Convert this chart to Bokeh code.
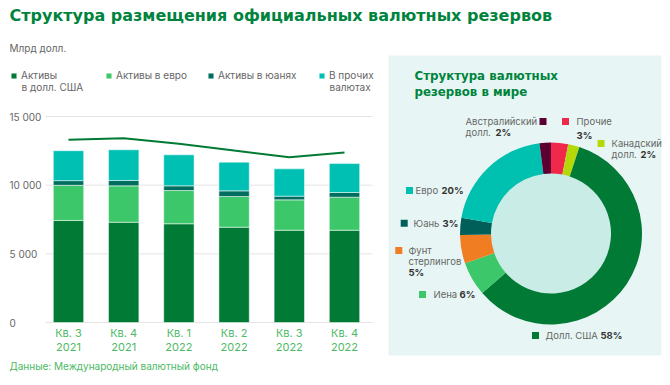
import numpy as np
from bokeh.plotting import figure
from bokeh.models import (ColumnDataSource, Range1d, Legend, LegendItem, Label)
from bokeh.embed import file_html
from bokeh.resources import INLINE
from bokeh.core.properties import value

# ---------------- data ----------------
quarters = ["Кв. 3\n2021", "Кв. 4\n2021", "Кв. 1\n2022", "Кв. 2\n2022", "Кв. 3\n2022", "Кв. 4\n2022"]
usd_assets = [7430, 7300, 7190, 6940, 6720, 6720]
eur_assets = [2560, 2650, 2420, 2235, 2210, 2405]
cny_assets = [340, 390, 340, 410, 270, 340]
other_assets = [2180, 2235, 2260, 2090, 1990, 2110]
total_reserves = [13300, 13420, 13010, 12520, 12040, 12380]
y_ticks = [0, 5000, 10000, 15000]
y_tick_labels = ["0", "5 000", "10 000", "15 000"]
series_names = ["Активы\nв долл. США", "Активы в евро", "Активы в юанях", "В прочих\nвалютах"]
series_colors = ["#007a35", "#3cc86a", "#006e5e", "#00c0b4"]

# world structure of reserves, clockwise from 12 o'clock
cur_names = ["Прочие", "Канадский долл.", "Долл. США", "Иена", "Фунт стерлингов", "Юань", "Евро", "Австралийский долл."]
cur_shares = [3, 2, 58, 6, 5, 3, 20, 2]
cur_colors = ["#f0284a", "#b4d80a", "#007a35", "#3cc86a", "#f07d22", "#005f58", "#00c0b0", "#5c0034"]

FONT = "Inter"
TFONT = "DejaVu Sans"
GREEN = "#00843d"
GRAY = "#666666"
DARK = "#333333"
TICKGREEN = "#4cba64"

# ---------------- one canvas; main ranges are page pixels (y negated) ----------------
W, H = 670, 385
p = figure(width=W, height=H, x_range=Range1d(0, W), y_range=Range1d(-H, 0),
           output_backend="svg", toolbar_location=None, min_border=0)
p.axis.visible = False
p.grid.visible = False
p.outline_line_color = None

# bar-chart ranges: bar i centred at px 68 + 55.2*i, value v at py 322 - v*206/15000
BX0, BDX = 68.0, 55.2
VY0, VPX = 322.0, 206.0 / 15000
p.extra_x_ranges = {"bars": Range1d((0 - BX0) / BDX, (W - BX0) / BDX)}
p.extra_y_ranges = {"bars": Range1d((VY0 - H) / VPX, (VY0 - 0) / VPX)}

def txt(x, y, s, bold=False, color=GRAY, size="9.5px", font=FONT, align="left"):
    p.add_layout(Label(x=x, y=-y, text=s, text_font=font, text_font_size=size,
                       text_font_style="bold" if bold else "normal",
                       text_color=color, text_baseline="middle", text_align=align))

# title
txt(9, 15, "Структура размещения официальных валютных резервов", bold=True,
    color=GREEN, size="16px", font=TFONT)

# grid lines and y labels
p.segment(x0=45, x1=372, y0=y_ticks, y1=y_ticks, y_range_name="bars",
          line_color="#e4e4e4", line_width=1)
p.text(x=[9] * 4, y=y_ticks, text=y_tick_labels, y_range_name="bars",
       text_font=value(FONT), text_font_size="10px", text_color=GRAY,
       text_baseline="alphabetic", text_align="left")

q_line1 = [q.split("\n")[0] for q in quarters]
q_line2 = [q.split("\n")[1] for q in quarters]
src = ColumnDataSource(dict(x=list(range(len(quarters))), usd=usd_assets, eur=eur_assets,
                            cny=cny_assets, other=other_assets, total=total_reserves,
                            q1=q_line1, q2=q_line2))
rs = p.vbar_stack(["usd", "eur", "cny", "other"], x="x", width=0.55, color=series_colors,
                  line_color="white", line_width=0.5, source=src,
                  x_range_name="bars", y_range_name="bars")
p.line("x", "total", source=src, line_color="#007a35", line_width=2,
       x_range_name="bars", y_range_name="bars")

# x labels (category names under bars), two lines
for col, yy in (("q1", -332), ("q2", -346)):
    p.text(x="x", y=yy, text=col, source=src, x_range_name="bars",
           text_font=value(FONT), text_font_size="11px", text_color=TICKGREEN,
           text_align="center", text_baseline="middle")

txt(9, 47, "Млрд долл.", size="10px")
txt(9, 365, "Данные: Международный валютный фонд", size="10px", color=TICKGREEN)

# legend: one Legend per item, placed like the original (location = bottom-left)
leg_pos = [(10, 81), (105, 81), (207, 81), (318, 81)]
for name, r, (lx, ly) in zip(series_names, rs, leg_pos):
    first, *rest = name.split("\n")
    lg = Legend(items=[LegendItem(label=first, renderers=[r])],
                location=(lx, H - ly), padding=0, margin=0,
                glyph_width=7, glyph_height=7, label_standoff=4,
                label_text_font=FONT, label_text_font_size="10px",
                label_text_color=GRAY,
                background_fill_alpha=0, border_line_color=None, label_height=10)
    p.add_layout(lg)
    for k, line in enumerate(rest):
        txt(lx + 11, 86 + 11 * k, line, size="10px")

# ---------------- donut panel ----------------
p.quad(left=[388], right=[661], top=[-55], bottom=[-355], fill_color="#e7f6f4", line_color=None)

fr = np.array(cur_shares, dtype=float) / sum(cur_shares)
ends = np.cumsum(fr)
starts = ends - fr
dsrc = ColumnDataSource(dict(start=np.pi / 2 - starts * 2 * np.pi, end=np.pi / 2 - ends * 2 * np.pi,
                             color=cur_colors, name=cur_names, share=cur_shares))
CX, CY = 550.5, -233
p.circle(x=[CX], y=[CY], radius=61, fill_color="#c9ece7", line_color=None)
p.annular_wedge(x=CX, y=CY, inner_radius=60, outer_radius=91, start_angle="start",
                end_angle="end", direction="clock", fill_color="color", line_color=None,
                source=dsrc)

txt(414, 75, "Структура валютных", bold=True, color=GREEN, size="11.8px", font=TFONT)
txt(414, 91, "резервов в мире", bold=True, color=GREEN, size="11.8px", font=TFONT)

# donut legend squares (AUD, Other, CAD, USD, JPY, GBP, CNY, EUR)
p.scatter(x=[542.5, 565, 600.5, 535, 422, 398.3, 403.7, 409],
          y=[-121, -121, -143, -335, -294, -250, -222.7, -190],
          marker="square", size=7, line_color=None,
          fill_color=[cur_colors[7], cur_colors[0], cur_colors[1], cur_colors[2],
                      cur_colors[3], cur_colors[4], cur_colors[5], cur_colors[6]])

txt(465, 121, "Австралийский")
txt(465, 132, "долл.")
txt(495, 132, "2%", bold=True, color=DARK)
txt(576, 121, "Прочие")
txt(576, 135, "3%", bold=True, color=DARK)
txt(611, 143, "Канадский")
txt(611, 154, "долл.")
txt(640, 154, "2%", bold=True, color=DARK)
txt(415, 190, "Евро")
txt(441, 190, "20%", bold=True, color=DARK)
txt(413, 223, "Юань")
txt(442, 223, "3%", bold=True, color=DARK)
txt(408, 250, "Фунт")
txt(408, 261, "стерлингов")
txt(408, 272, "5%", bold=True, color=DARK)
txt(433, 294, "Иена")
txt(459, 294, "6%", bold=True, color=DARK)
txt(545, 335, "Долл. США")
txt(600, 335, "58%", bold=True, color=DARK)

open("out.html", "w").write(file_html(p, INLINE))
